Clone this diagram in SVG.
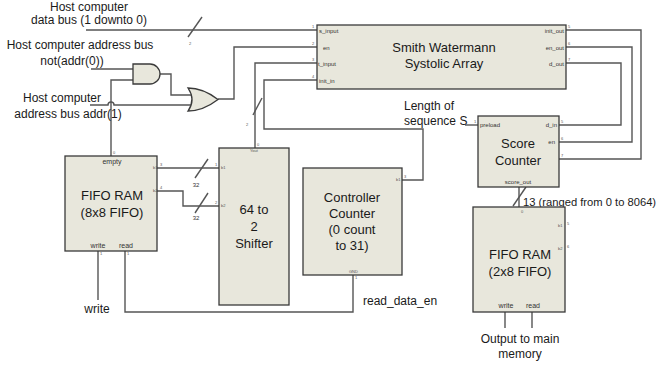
<svg xmlns="http://www.w3.org/2000/svg" width="660" height="366" viewBox="0 0 660 366">
<style>
.box{fill:#e8e7dc;stroke:#3a3a3a;stroke-width:1.3}
.w{fill:none;stroke:#555;stroke-width:1.4}
.t{font-family:"Liberation Sans",Arial,sans-serif;font-size:12px;fill:#1a1a1a}
.tt{font-family:"Liberation Sans",Arial,sans-serif;font-size:13px;fill:#1a1a1a;text-anchor:middle}
.s{font-family:"Liberation Sans",Arial,sans-serif;font-size:6px;fill:#333}
.p{font-family:"Liberation Sans",Arial,sans-serif;font-size:4px;fill:#555}
.m{text-anchor:middle}
.e{text-anchor:end}
</style>
<rect width="660" height="366" fill="#fff"/>
<g id="connectors">
<path class="w" d="M86 30 H317"/>
<path class="w" d="M188 37 L202 17"/>
<path class="w" d="M91 69 H134"/>
<path class="w" d="M111 156 V80 H134"/>
<path class="w" d="M90 105 H108 A3 3 0 0 1 114 105 H193"/>
<path class="w" d="M160 74 H171 V95 H193"/>
<path class="w" d="M218 99 H234 V47 H317"/>
<path class="w" d="M255 148 V63 H317"/>
<path class="w" d="M253 115 L262 98"/>
<path class="w" d="M402 180 H423 V129 H264 V80 H317"/>
<path class="w" d="M566 30 H641 V159 H559"/>
<path class="w" d="M566 47 H632 V142 H559"/>
<path class="w" d="M566 63 H621 V125 H559"/>
<path class="w" d="M465 125 H478"/>
<path class="w" d="M519 187 V207"/>
<path class="w" d="M513 206 L526 187"/>
<path class="w" d="M157 168 H219"/>
<path class="w" d="M195 178 L208 159"/>
<path class="w" d="M157 191 H183 V206 H219"/>
<path class="w" d="M195 213 L208 193"/>
<path class="w" d="M98 251 V300"/>
<path class="w" d="M125 251 V312 H353 V275"/>
<path class="w" d="M505 312 V328"/>
<path class="w" d="M532 312 V328"/>
<text class="p" x="189" y="45">2</text>
<text class="p" x="246" y="126">2</text>
<text class="s m" x="196" y="187">32</text>
<text class="s m" x="196" y="220">32</text>
</g>
<g id="labels">
<text class="t m" x="89" y="11">Host computer</text>
<text class="t m" x="89" y="24">data bus (1 downto 0)</text>
<text class="t m" x="80" y="49">Host computer address bus</text>
<text class="t m" x="72" y="65">not(addr(0))</text>
<text class="t m" x="62" y="102">Host computer</text>
<text class="t m" x="68" y="118">address bus addr(1)</text>
<text class="t m" x="97" y="313">write</text>
<text class="t" x="363" y="305">read_data_en</text>
<text class="t" x="404" y="110">Length of</text>
<text class="t" x="404" y="125">sequence S</text>
<text class="t" x="523" y="206" style="font-size:11.2px">13 (ranged from 0 to 8064)</text>
<text class="t m" x="520" y="343">Output to main</text>
<text class="t m" x="520" y="358">memory</text>
</g>
<g id="and_gate">
<path class="box" d="M133 64 H150 A10 10 0 0 1 150 84 H133 Z"/>
</g>
<g id="or_gate">
<path class="box" d="M188 88 Q203 88 218 99.5 Q203 111 188 111 Q196 99.5 188 88 Z"/>
</g>
<g id="smith_waterman">
<rect class="box" x="317" y="25" width="249" height="64"/>
<text class="tt" x="444" y="52">Smith Watermann</text>
<text class="tt" x="444" y="68">Systolic Array</text>
<text class="s" x="319" y="33">s_input</text>
<text class="s" x="323" y="50">en</text>
<text class="s" x="318" y="66">t_input</text>
<text class="s" x="319" y="83">init_in</text>
<text class="s e" x="564" y="33">init_out</text>
<text class="s e" x="564" y="50">en_out</text>
<text class="s e" x="564" y="66">d_out</text>
<text class="p" x="312" y="28">1</text>
<text class="p" x="312" y="45">2</text>
<text class="p" x="312" y="61">3</text>
<text class="p" x="312" y="78">4</text>
<text class="p" x="568" y="28">5</text>
<text class="p" x="568" y="45">6</text>
<text class="p" x="568" y="61">7</text>
</g>
<g id="fifo_left">
<rect class="box" x="65" y="156" width="92" height="95"/>
<text class="s m" x="112" y="164" style="font-size:7px">empty</text>
<text class="tt" x="112" y="200">FIFO RAM</text>
<text class="tt" x="112" y="217">(8x8 FIFO)</text>
<text class="s m" x="98" y="248" style="font-size:7px">write</text>
<text class="s m" x="126" y="248" style="font-size:7px">read</text>
<text class="p" x="113" y="154">0</text>
<text class="p" x="153" y="169">b1</text>
<text class="p" x="153" y="192">b2</text>
<text class="p" x="160" y="166">3</text>
<text class="p" x="160" y="189">4</text>
<text class="p" x="100" y="255">1</text>
<text class="p" x="127" y="255">1</text>
</g>
<g id="shifter">
<rect class="box" x="219" y="148" width="70" height="157"/>
<text class="tt" x="254" y="214">64 to</text>
<text class="tt" x="254" y="231">2</text>
<text class="tt" x="254" y="248">Shifter</text>
<text class="p" x="250" y="152">Yout</text>
<text class="p" x="257" y="146">0</text>
<text class="p" x="221" y="169">b1</text>
<text class="p" x="221" y="207">b2</text>
<text class="p" x="215" y="166">1</text>
<text class="p" x="215" y="204">2</text>
</g>
<g id="controller">
<rect class="box" x="303" y="168" width="99" height="107"/>
<text class="tt" x="352" y="202">Controller</text>
<text class="tt" x="352" y="218">Counter</text>
<text class="tt" x="352" y="234">(0 count</text>
<text class="tt" x="352" y="250">to 31)</text>
<text class="p" x="396" y="181">b1</text>
<text class="p" x="404" y="178">3</text>
<text class="p" x="349" y="273">GND</text>
<text class="p" x="355" y="279">1</text>
</g>
<g id="score_counter">
<rect class="box" x="478" y="116" width="81" height="71"/>
<text class="tt" x="518" y="148">Score</text>
<text class="tt" x="518" y="165">Counter</text>
<text class="s" x="480" y="127">preload</text>
<text class="s e" x="557" y="127">d_in</text>
<text class="s e" x="555" y="144">en</text>
<text class="s m" x="518" y="184">score_out</text>
<text class="p" x="474" y="123">1</text>
<text class="p" x="561" y="123">5</text>
<text class="p" x="561" y="140">6</text>
<text class="p" x="561" y="157">7</text>
</g>
<g id="fifo_right">
<rect class="box" x="473" y="207" width="92" height="105"/>
<text class="tt" x="520" y="259">FIFO RAM</text>
<text class="tt" x="520" y="276">(2x8 FIFO)</text>
<text class="s m" x="506" y="308" style="font-size:7px">write</text>
<text class="s m" x="533" y="308" style="font-size:7px">read</text>
<text class="p" x="558" y="227">b1</text>
<text class="p" x="558" y="250">b2</text>
<text class="p" x="567" y="225">5</text>
<text class="p" x="567" y="248">6</text>
<text class="p" x="521" y="213">0</text>
</g>
</svg>
